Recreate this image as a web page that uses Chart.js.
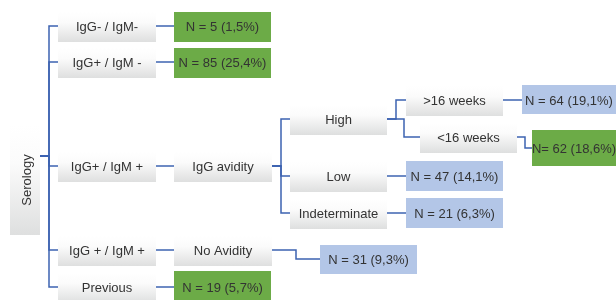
<!DOCTYPE html>
<html>
<head>
<meta charset="utf-8">
<script src="https://cdn.jsdelivr.net/npm/chart.js@4"></script>
<style>
  body { margin: 0; background: #fff; }
  #wrap { width: 616px; height: 300px; position: relative; }
</style>
</head>
<body>
<div id="wrap"><canvas id="tree"></canvas></div>
<script>
// Datos del árbol
const stageLabels = ["Serology", "IgG- / IgM-", "IgG+ / IgM -", "IgG+ / IgM +", "IgG + / IgM +", "Previous",
  "IgG avidity", "No Avidity", "High", "Low", "Indeterminate", ">16 weeks", "<16 weeks"];
const outcomeCounts = [5, 85, 64, 62, 47, 21, 31, 19];
const outcomeShares = [1.5, 25.4, 19.1, 18.6, 14.1, 6.3, 9.3, 5.7];
const outcomePrefix = ["N = ", "N = ", "N = ", "N= ", "N = ", "N = ", "N = ", "N = "];

// Relaciones padre -> hijo (índices: etapas "s", resultados "o")
const edges = [
  ["s0", "s1"], ["s0", "s2"], ["s0", "s3"], ["s0", "s4"], ["s0", "s5"],
  ["s1", "o0"], ["s2", "o1"], ["s3", "s6"], ["s4", "s7"], ["s5", "o7"],
  ["s6", "s8"], ["s6", "s9"], ["s6", "s10"], ["s7", "o6"],
  ["s8", "s11"], ["s8", "s12"], ["s9", "o4"], ["s10", "o5"],
  ["s11", "o2"], ["s12", "o3"]
];

// Posiciones (píxeles) -- solo maquetación
const stageLayout = [
  { x: 10, y: 156, w: 30, top: 125, bottom: 235, vertical: true },
  { x: 58, y: 26, w: 98 }, { x: 58, y: 62, w: 98 }, { x: 58, y: 166, w: 98 },
  { x: 58, y: 250, w: 98 }, { x: 58, y: 287, w: 98 },
  { x: 174, y: 166, w: 98 }, { x: 174, y: 250, w: 98 },
  { x: 290, y: 119, w: 97 }, { x: 290, y: 176, w: 97 }, { x: 290, y: 213, w: 97 },
  { x: 406, y: 100, w: 97 }, { x: 420, y: 137, w: 97 }
];
const outcomeLayout = [
  { x: 174, y: 26, w: 97, top: 12, bottom: 42, color: "#6cab47" },
  { x: 174, y: 62, w: 97, top: 48, bottom: 78, color: "#6cab47" },
  { x: 522, y: 100, w: 94, top: 85, bottom: 114, color: "#b3c6e7" },
  { x: 532, y: 148, w: 84, top: 130, bottom: 166, color: "#6cab47" },
  { x: 406, y: 176, w: 97, top: 161, bottom: 191, color: "#b3c6e7" },
  { x: 406, y: 213, w: 97, top: 198, bottom: 228, color: "#b3c6e7" },
  { x: 320, y: 259, w: 97, top: 245, bottom: 274, color: "#b3c6e7" },
  { x: 174, y: 287, w: 97, top: 271, bottom: 300, color: "#6cab47" }
];
// x del codo para cada padre
const elbowX = { s0: 49, s6: 281, s7: 296, s8: 396, s12: 525 };
const elbowOverride = { "s8>s12": 404 };

const fmt = v => v.toFixed(1).replace(".", ",");
const outcomeLabels = outcomeCounts.map((n, i) => `${outcomePrefix[i]}${n} (${fmt(outcomeShares[i])}%)`);

function node(id) {
  return id[0] === "s" ? stageLayout[+id.slice(1)] : outcomeLayout[+id.slice(1)];
}

// Construir conectores
const lineColor = "#3d63b1";
const datasets = edges.map(([p, c]) => {
  const a = node(p), b = node(c);
  const x0 = a.x + a.w, x1 = b.x;
  const ex = elbowOverride[p + ">" + c] || elbowX[p] || x1;
  return {
    data: [{ x: x0, y: a.y }, { x: ex, y: a.y }, { x: ex, y: b.y }, { x: x1, y: b.y }],
    showLine: true,
    borderColor: lineColor,
    borderWidth: 1.5,
    pointRadius: 0,
    tension: 0,
    fill: false
  };
});

const font = '13px "Liberation Sans", Arial, sans-serif';

const boxesPlugin = {
  id: "boxes",
  beforeDatasetsDraw(chart) {
    const ctx = chart.ctx, xs = chart.scales.x, ys = chart.scales.y;
    ctx.save();
    stageLayout.forEach(n => {
      const l = xs.getPixelForValue(n.x), r = xs.getPixelForValue(n.x + n.w);
      const t = ys.getPixelForValue(n.top !== undefined ? n.top : n.y - 14);
      const b = ys.getPixelForValue(n.bottom !== undefined ? n.bottom : n.y + 16);
      const g = ctx.createLinearGradient(0, t, 0, b);
      g.addColorStop(0, "#ffffff");
      g.addColorStop(0.35, "#fbfbfb");
      g.addColorStop(1, "#dedfdf");
      ctx.fillStyle = g;
      ctx.fillRect(l, t, r - l, b - t);
    });
    outcomeLayout.forEach(n => {
      const l = xs.getPixelForValue(n.x), r = xs.getPixelForValue(n.x + n.w);
      const t = ys.getPixelForValue(n.top), b = ys.getPixelForValue(n.bottom);
      ctx.fillStyle = n.color;
      ctx.fillRect(l, t, r - l, b - t);
    });
    ctx.restore();
  },
  afterDatasetsDraw(chart) {
    const ctx = chart.ctx, xs = chart.scales.x, ys = chart.scales.y;
    ctx.save();
    ctx.font = font;
    ctx.fillStyle = "#333333";
    ctx.textAlign = "center";
    ctx.textBaseline = "middle";
    stageLayout.forEach((n, i) => {
      if (n.vertical) {
        ctx.save();
        ctx.translate(xs.getPixelForValue(n.x + n.w / 2 + 2), ys.getPixelForValue((n.top + n.bottom) / 2));
        ctx.rotate(-Math.PI / 2);
        ctx.fillText(stageLabels[i], 0, 0);
        ctx.restore();
      } else {
        ctx.fillText(stageLabels[i], xs.getPixelForValue(n.x + n.w / 2), ys.getPixelForValue(n.y + 1));
      }
    });
    outcomeLayout.forEach((n, i) => {
      ctx.fillText(outcomeLabels[i], xs.getPixelForValue(n.x + n.w / 2), ys.getPixelForValue(n.y + 1));
    });
    ctx.restore();
  }
};

new Chart(document.getElementById("tree"), {
  type: "scatter",
  data: { datasets },
  options: {
    responsive: true,
    maintainAspectRatio: false,
    animation: false,
    layout: { padding: 0 },
    scales: {
      x: { type: "linear", min: 0, max: 616, display: false },
      y: { type: "linear", min: 0, max: 300, reverse: true, display: false }
    },
    plugins: { legend: { display: false }, tooltip: { enabled: false } }
  },
  plugins: [boxesPlugin]
});
</script>
</body>
</html>
